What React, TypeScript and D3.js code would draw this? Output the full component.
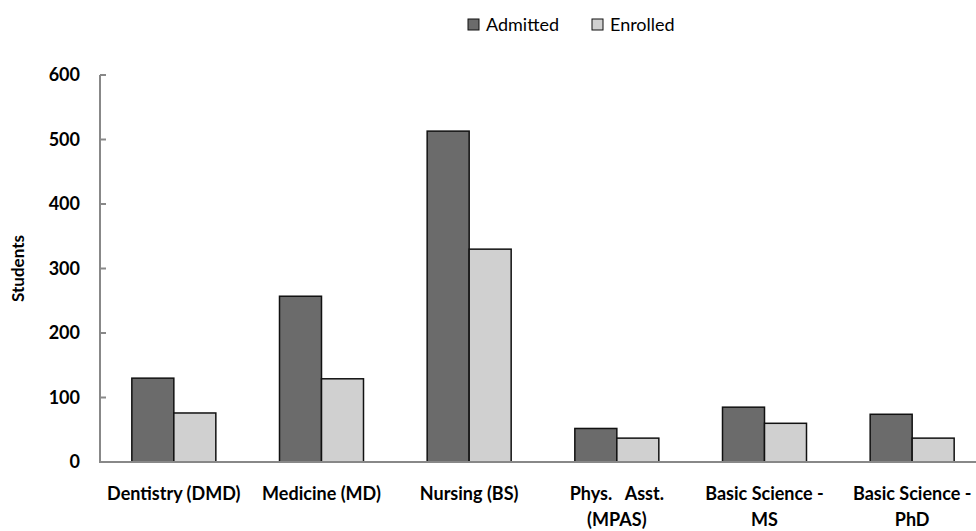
import { useEffect, useRef } from "react";
import * as d3 from "d3";

const categories = [
  "Dentistry (DMD)",
  "Medicine (MD)",
  "Nursing (BS)",
  "Phys. Asst. (MPAS)",
  "Basic Science - MS",
  "Basic Science - PhD",
];
// how the category labels wrap under the axis
const categoryLines = [
  ["Dentistry (DMD)"],
  ["Medicine (MD)"],
  ["Nursing (BS)"],
  ["Phys.   Asst.", "(MPAS)"],
  ["Basic Science -", "MS"],
  ["Basic Science -", "PhD"],
];
const seriesNames = ["Admitted", "Enrolled"];
const admitted = [130, 257, 513, 52, 85, 74];
const enrolled = [76, 129, 330, 37, 60, 37];
const yTicks = [0, 100, 200, 300, 400, 500, 600];

const colors = ["#6b6b6b", "#d0d0d0"];

export default function App() {
  const svgRef = useRef<SVGSVGElement | null>(null);
  const width = 976;
  const height = 531;

  useEffect(() => {
    const svg = d3.select(svgRef.current);
    svg.selectAll("*").remove();

    const margin = { left: 100, top: 75, bottom: 69 };
    const plotRight = 986; // last category is cut off by the window edge
    const font = "Lato, 'Open Sans', sans-serif";

    const x = d3
      .scaleBand<string>()
      .domain(categories)
      .range([margin.left, plotRight]);

    const groupWidth = 84;
    const xs = d3
      .scaleBand<string>()
      .domain(seriesNames)
      .range([0, groupWidth]);

    const y = d3
      .scaleLinear()
      .domain([0, 600])
      .range([height - margin.bottom, margin.top]);

    const series = [admitted, enrolled];

    // bars
    series.forEach((vals, si) => {
      svg
        .append("g")
        .selectAll("rect")
        .data(vals)
        .join("rect")
        .attr("x", (_, i) => x(categories[i])! + (x.bandwidth() - groupWidth) / 2 + xs(seriesNames[si])!)
        .attr("y", (d) => y(d))
        .attr("width", xs.bandwidth())
        .attr("height", (d) => y(0) - y(d))
        .attr("fill", colors[si])
        .attr("stroke", "#111")
        .attr("stroke-width", 1.5);
    });

    // y axis
    const yAxis = svg.append("g").attr("transform", `translate(${margin.left},0)`);
    yAxis
      .append("line")
      .attr("x1", 0)
      .attr("x2", 0)
      .attr("y1", y(600))
      .attr("y2", y(0))
      .attr("stroke", "#888")
      .attr("stroke-width", 2);
    yAxis
      .selectAll("line.tick")
      .data(yTicks)
      .join("line")
      .attr("class", "tick")
      .attr("x1", 0)
      .attr("x2", 6)
      .attr("y1", (d) => y(d))
      .attr("y2", (d) => y(d))
      .attr("stroke", "#888")
      .attr("stroke-width", 2);
    yAxis
      .selectAll("text")
      .data(yTicks)
      .join("text")
      .attr("x", -20)
      .attr("y", (d) => y(d))
      .attr("dy", "0.35em")
      .attr("text-anchor", "end")
      .attr("font-family", font)
      .attr("font-weight", "bold")
      .attr("font-size", 18)
      .attr("fill", "#000")
      .text((d) => d);

    // x axis line
    svg
      .append("line")
      .attr("x1", margin.left - 1)
      .attr("x2", width)
      .attr("y1", y(0))
      .attr("y2", y(0))
      .attr("stroke", "#888")
      .attr("stroke-width", 2);

    // category labels
    categoryLines.forEach((lines, i) => {
      const cx = x(categories[i])! + x.bandwidth() / 2;
      const t = svg
        .append("text")
        .attr("x", cx)
        .attr("y", 500)
        .attr("text-anchor", "middle")
        .attr("font-family", font)
        .attr("font-weight", "bold")
        .attr("font-size", 18)
        .attr("fill", "#000");
      lines.forEach((ln, li) => {
        t.append("tspan")
          .attr("x", cx)
          .attr("dy", li === 0 ? 0 : 26)
          .attr("xml:space", "preserve")
          .style("white-space", "pre")
          .text(ln);
      });
    });

    // y axis title
    svg
      .append("text")
      .attr("transform", `translate(24,${(y(0) + y(600)) / 2}) rotate(-90)`)
      .attr("text-anchor", "middle")
      .attr("font-family", font)
      .attr("font-weight", "bold")
      .attr("font-size", 17)
      .attr("fill", "#000")
      .text("Students");

    // legend
    const legendX = [468, 592];
    seriesNames.forEach((name, i) => {
      const g = svg.append("g").attr("transform", `translate(${legendX[i]},19)`);
      g.append("rect")
        .attr("width", 11)
        .attr("height", 11)
        .attr("fill", colors[i])
        .attr("stroke", "#111")
        .attr("stroke-width", 1);
      g.append("text")
        .attr("x", 18)
        .attr("y", 6)
        .attr("dy", "0.35em")
        .attr("font-family", font)
        .attr("font-size", 18)
        .attr("fill", "#000")
        .text(name);
    });
  }, []);

  return (
    <svg
      ref={svgRef}
      width={width}
      height={height}
      style={{ position: "absolute", left: 0, top: 0, background: "#fff" }}
    ></svg>
  );
}
